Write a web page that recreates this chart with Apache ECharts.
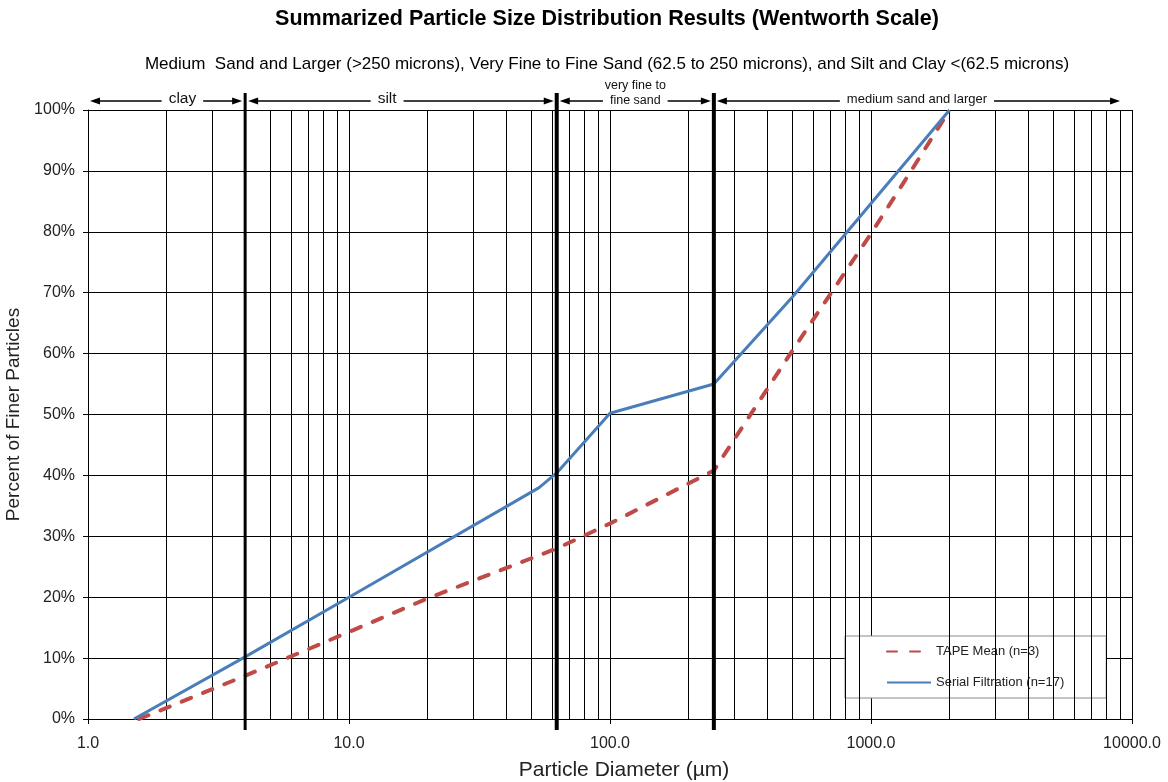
<!DOCTYPE html>
<html><head><meta charset="utf-8">
<script src="https://cdn.jsdelivr.net/npm/echarts@6/dist/echarts.min.js"></script>
<style>html,body{margin:0;padding:0;background:#fff}#c{width:1168px;height:782px}</style>
</head><body><div id="c"></div>
<script>
const chartTitle = 'Summarized Particle Size Distribution Results (Wentworth Scale)';
const chartSubtitle = 'Medium  Sand and Larger (>250 microns), Very Fine to Fine Sand (62.5 to 250 microns), and Silt and Clay <(62.5 microns)';
const xName = 'Particle Diameter (\u00b5m)';
const yName = 'Percent of Finer Particles';
const seriesNames = ['TAPE Mean (n=3)', 'Serial Filtration (n=17)'];

const tapeDiameter = [1.57, 4, 10, 20, 62.5, 100, 250, 500, 1000, 1400, 2000];
const tapePercent  = [0, 7.1, 14.3, 19.8, 28.0, 32.1, 40.8, 60.5, 79.7, 89.5, 100];
const serialDiameter = [1.5, 4, 10, 53.5, 62.5, 100, 250, 500, 2000];
const serialPercent  = [0, 10.2, 20.0, 38.0, 40.4, 50.2, 55.0, 69.3, 100];

const xMin = 1, xMax = 10000;
const yMin = 0, yMax = 100, yStep = 10;
const xMinorGrid = [2,3,4,5,6,7,8,9,20,30,40,50,60,70,80,90,200,300,400,500,600,700,800,900,2000,3000,4000,5000,6000,7000,8000,9000];
const zoneBounds = [4, 62.5, 250];
const zoneFrom  = [1, 4, 62.5, 250];
const zoneTo    = [4, 62.5, 250, 9000];
const zoneAt    = [2.3, 14, 125, 1500];
const zoneLabels = [['clay'], ['silt'], ['very fine to', 'fine sand'], ['medium sand and larger']];

const FONT = '"Liberation Sans", Arial, sans-serif';
const RED = '#BE4B48', BLUE = '#4A7EBB';

const chart = echarts.init(document.getElementById('c'), null, {renderer: 'canvas'});
const pairs = (xs, ys) => xs.map((x, i) => [x, ys[i]]);

const option = {
  animation: false,
  backgroundColor: '#fff',
  textStyle: {fontFamily: FONT},
  title: [
    {text: chartTitle, left: 607, top: 8, padding: 0, textAlign: 'center',
     textStyle: {fontFamily: FONT, fontSize: 21.5, fontWeight: 'bold', color: '#000'}},
    {text: chartSubtitle, left: 607, top: 56, padding: 0, textAlign: 'center',
     textStyle: {fontFamily: FONT, fontSize: 17, fontWeight: 'normal', color: '#000'}}
  ],
  grid: {left: 88, right: 36, top: 110, bottom: 63, containLabel: false, outerBoundsMode: 'none'},
  legend: {
    data: seriesNames, orient: 'vertical', left: 845, top: 636,
    itemWidth: 44, itemHeight: 14, itemGap: 18, padding: [9, 42, 9, 41],
    backgroundColor: '#fff', borderColor: '#888', borderWidth: 1,
    itemStyle: {opacity: 0},
    textStyle: {fontFamily: FONT, fontSize: 13, color: '#222'}
  },
  xAxis: {
    type: 'log', logBase: 10, min: xMin, max: xMax,
    name: xName, nameLocation: 'middle', nameGap: 41,
    nameTextStyle: {fontFamily: FONT, fontSize: 21, color: '#222', padding: [0, 0, 0, 28]},
    axisLine: {show: true, lineStyle: {color: '#000', width: 1}},
    axisTick: {show: true, length: 5, lineStyle: {color: '#000'}},
    axisLabel: {fontFamily: FONT, fontSize: 16, color: '#222', margin: 17,
      formatter: v => Number(v).toFixed(1)},
    splitLine: {show: true, lineStyle: {color: '#000', width: 1}},
    minorTick: {show: false}, minorSplitLine: {show: false}
  },
  yAxis: {
    type: 'value', min: yMin, max: yMax, interval: yStep,
    name: yName, nameLocation: 'middle', nameGap: 52,
    nameTextStyle: {fontFamily: FONT, fontSize: 19, color: '#222'},
    axisLine: {show: true, lineStyle: {color: '#000', width: 1}},
    axisTick: {show: true, length: 5, lineStyle: {color: '#000'}},
    axisLabel: {fontFamily: FONT, fontSize: 16, color: '#222', margin: 13, formatter: '{value}%'},
    splitLine: {show: true, lineStyle: {color: '#000', width: 1}}
  },
  series: [
    {
      name: 'minor-grid', type: 'line', data: [], z: 1, silent: true,
      markLine: {
        silent: true, symbol: ['none', 'none'], label: {show: false},
        lineStyle: {color: '#000', width: 1, type: 'solid'},
        emphasis: {disabled: true},
        data: xMinorGrid.map(v => ({xAxis: v}))
      }
    },
    {
      name: seriesNames[0], type: 'line', data: pairs(tapeDiameter, tapePercent),
      symbol: 'none', z: 5, color: RED,
      lineStyle: {color: RED, width: 4, type: [10, 13], cap: 'round'}
    },
    {
      name: seriesNames[1], type: 'line', data: pairs(serialDiameter, serialPercent),
      symbol: 'none', z: 6, color: BLUE,
      lineStyle: {color: BLUE, width: 3}
    }
  ]
};
chart.setOption(option);

// Annotations placed through the chart's own scales
const gx = v => chart.convertToPixel({xAxisIndex: 0}, v);
const gy = v => chart.convertToPixel({yAxisIndex: 0}, v);
const plotTop = gy(yMax), plotBottom = gy(yMin);
const boundWidths = [3, 4, 4];
const mctx = document.createElement('canvas').getContext('2d');
const measure = (t, size) => { mctx.font = size + 'px ' + FONT; return mctx.measureText(t).width; };

const els = [];
zoneBounds.forEach((b, i) => {
  const x = gx(b);
  els.push({type: 'line', silent: true, z: 50,
    shape: {x1: x, y1: plotTop - 17, x2: x, y2: plotBottom + 11},
    style: {stroke: '#000', lineWidth: boundWidths[i]}});
});
const arrowY = plotTop - 9;
function arrow(xTip, xTail) {
  const dir = xTip > xTail ? 1 : -1;
  els.push({type: 'line', silent: true, z: 50,
    shape: {x1: xTail, y1: arrowY, x2: xTip - dir * 6, y2: arrowY},
    style: {stroke: '#000', lineWidth: 1.3}});
  els.push({type: 'polygon', silent: true, z: 50,
    shape: {points: [[xTip, arrowY], [xTip - dir * 10, arrowY - 3.5], [xTip - dir * 10, arrowY + 3.5]]},
    style: {fill: '#000'}});
}
zoneLabels.forEach((lines, i) => {
  const size = lines.length > 1 ? 12.5 : (i === 3 ? 13 : 15.5);
  const cx = gx(zoneAt[i]);
  lines.forEach((t, k) => {
    const y = lines.length > 1 ? (k === 0 ? plotTop - 24 : plotTop - 9) : plotTop - 11;
    els.push({type: 'text', silent: true, z: 50, x: cx, y: y,
      style: {text: t, font: size + 'px ' + FONT, fill: '#111',
        align: 'center', verticalAlign: 'middle', textAlign: 'center', textVerticalAlign: 'middle'}});
  });
  const last = lines[lines.length - 1];
  const w = measure(last, size);
  const gap = 7;
  const xl = gx(zoneFrom[i]) + (i === 0 ? 2 : 3);
  const xr = i === 3 ? gx(zoneTo[i]) : gx(zoneTo[i]) - 3;
  arrow(xl, cx - w / 2 - gap);
  arrow(xr, cx + w / 2 + gap);
});
chart.setOption({graphic: {elements: els}});
</script>
</body></html>
